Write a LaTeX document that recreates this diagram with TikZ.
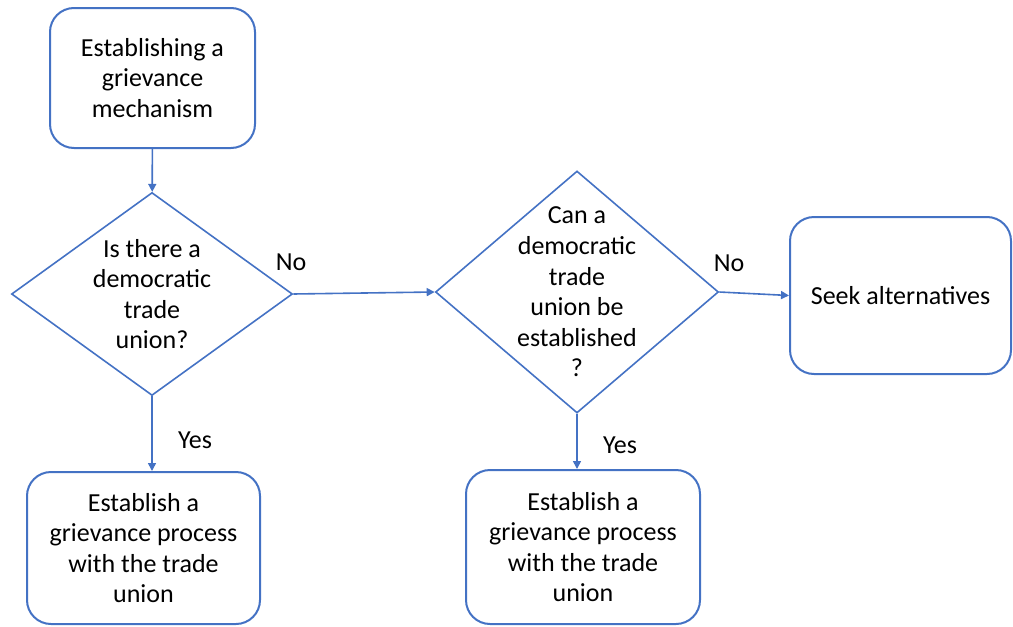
\documentclass[tikz,border=0pt]{standalone}
\usepackage{fontspec}
\setmainfont{Carlito}
\usetikzlibrary{shapes.geometric,arrows.meta}
\definecolor{flowblue}{HTML}{4472C4}
\tikzset{
  boxnode/.style={draw=flowblue, line width=1pt, rounded corners=12pt, align=center, font=\fontsize{13}{15.3}\selectfont},
  decision/.style={draw=flowblue, line width=0.8pt, diamond, align=center, inner sep=-20pt, font=\fontsize{13}{15.3}\selectfont},
  arr/.style={draw=flowblue, line width=0.8pt, -{Triangle[length=4pt,width=4pt]}},
  lbl/.style={font=\fontsize{13}{15.3}\selectfont}
}
\begin{document}
\begin{tikzpicture}[x=0.5pt,y=-0.5pt]
\useasboundingbox (0,0) rectangle (1013,627);
\node[boxnode, minimum width=102.5pt, minimum height=70pt] (start) at (152.5,78) {Establishing a\\grievance\\mechanism};
\node[decision, minimum width=140.5pt, minimum height=101.5pt] (ask1) at (152,294) {Is there a\\democratic\\trade\\union?};
\node[decision, minimum width=141.5pt, minimum height=121pt] (ask2) at (577,292) {Can a\\democratic\\trade\\union be\\established\\?};
\node[boxnode, minimum width=110.5pt, minimum height=78.5pt] (seek) at (900.5,295.5) {Seek alternatives};
\node[boxnode, minimum width=116.5pt, minimum height=76pt] (est1) at (143.5,548) {Establish a\\grievance process\\with the trade\\union};
\node[boxnode, minimum width=117pt, minimum height=77pt] (est2) at (583,547) {Establish a\\grievance process\\with the trade\\union};
% connectors
\draw[arr] (start) -- (ask1);
\draw[arr] (ask1.east) -- (ask2.west);
\draw[arr] (ask2.east) -- (seek.west);
\draw[arr] (ask1.south) -- (ask1.south |- est1.north);
\draw[arr] (ask2.south) -- (ask2.south |- est2.north);
% labels
\node[lbl] (no1) at (291,262) {No};
\node[lbl] (no2) at (729,263) {No};
\node[lbl] (yes1) at (195,440) {Yes};
\node[lbl] (yes2) at (620,445) {Yes};
\end{tikzpicture}
\end{document}
